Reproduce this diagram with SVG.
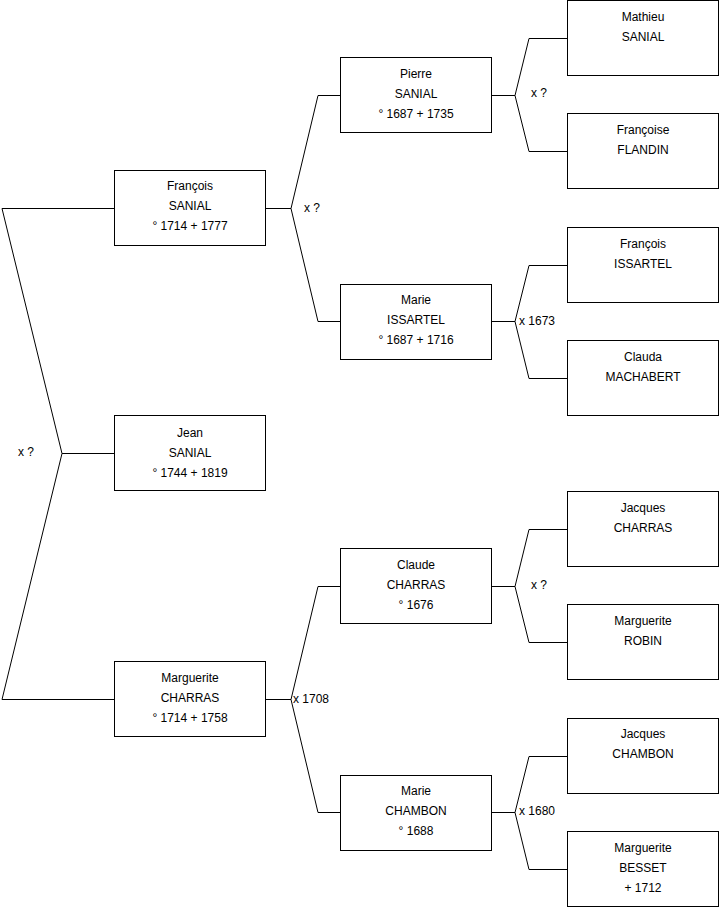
<svg xmlns="http://www.w3.org/2000/svg" width="719" height="908" viewBox="0 0 719 908">
<style>
rect{fill:#fff;stroke:#000;stroke-width:1}
text{font-family:"Liberation Sans",Arial,sans-serif;font-size:12px;fill:#000}
.c{text-anchor:middle}
#connectors path{fill:none;stroke:#000;stroke-width:1}
</style>
<rect x="0" y="0" width="719" height="908" style="stroke:none"/>
<g id="connectors">
<path d="M114,208.5H2L62,453.5H114M2,699.5L62,453.5M2,699.5H114"/>
<path d="M265,208.5H291L318,95.5H341M291,208.5L318,321.5H341"/>
<path d="M265,699.5H291L318,586.5H341M291,699.5L318,812.5H341"/>
<path d="M491,95.5H515L529,38.5H567M515,95.5L529,151.5H567"/>
<path d="M491,321.5H515L529,265.5H567M515,321.5L529,378.5H567"/>
<path d="M491,586.5H515L529,529.5H567M515,586.5L529,642.5H567"/>
<path d="M491,812.5H515L529,756.5H567M515,812.5L529,869.5H567"/>
</g>
<g id="labels">
<text x="18" y="456">x ?</text>
<text x="304" y="212">x ?</text>
<text x="293" y="703">x 1708</text>
<text x="531" y="97">x ?</text>
<text x="519" y="325">x 1673</text>
<text x="531" y="589">x ?</text>
<text x="519" y="815">x 1680</text>
</g>
<g id="jean"><rect x="114.5" y="415.5" width="151" height="75"/><text class="c" x="190" y="437">Jean</text><text class="c" x="190" y="457">SANIAL</text><text class="c" x="190" y="477">° 1744 + 1819</text></g>
<g id="francois-sanial"><rect x="114.5" y="170.5" width="151" height="75"/><text class="c" x="190" y="190">François</text><text class="c" x="190" y="210">SANIAL</text><text class="c" x="190" y="230">° 1714 + 1777</text></g>
<g id="marguerite-charras"><rect x="114.5" y="661.5" width="151" height="75"/><text class="c" x="190" y="682">Marguerite</text><text class="c" x="190" y="702">CHARRAS</text><text class="c" x="190" y="722">° 1714 + 1758</text></g>
<g id="pierre-sanial"><rect x="340.5" y="57.5" width="151" height="75"/><text class="c" x="416" y="78">Pierre</text><text class="c" x="416" y="98">SANIAL</text><text class="c" x="416" y="118">° 1687 + 1735</text></g>
<g id="marie-issartel"><rect x="340.5" y="284.5" width="151" height="75"/><text class="c" x="416" y="304">Marie</text><text class="c" x="416" y="324">ISSARTEL</text><text class="c" x="416" y="344">° 1687 + 1716</text></g>
<g id="claude-charras"><rect x="340.5" y="548.5" width="151" height="75"/><text class="c" x="416" y="569">Claude</text><text class="c" x="416" y="589">CHARRAS</text><text class="c" x="416" y="609">° 1676</text></g>
<g id="marie-chambon"><rect x="340.5" y="775.5" width="151" height="75"/><text class="c" x="416" y="795">Marie</text><text class="c" x="416" y="815">CHAMBON</text><text class="c" x="416" y="835">° 1688</text></g>
<g id="mathieu-sanial"><rect x="567.5" y="0.5" width="151" height="75"/><text class="c" x="643" y="21">Mathieu</text><text class="c" x="643" y="41">SANIAL</text></g>
<g id="francoise-flandin"><rect x="567.5" y="113.5" width="151" height="75"/><text class="c" x="643" y="134">Françoise</text><text class="c" x="643" y="154">FLANDIN</text></g>
<g id="francois-issartel"><rect x="567.5" y="227.5" width="151" height="75"/><text class="c" x="643" y="248">François</text><text class="c" x="643" y="268">ISSARTEL</text></g>
<g id="clauda-machabert"><rect x="567.5" y="340.5" width="151" height="75"/><text class="c" x="643" y="361">Clauda</text><text class="c" x="643" y="381">MACHABERT</text></g>
<g id="jacques-charras"><rect x="567.5" y="491.5" width="151" height="75"/><text class="c" x="643" y="512">Jacques</text><text class="c" x="643" y="532">CHARRAS</text></g>
<g id="marguerite-robin"><rect x="567.5" y="604.5" width="151" height="75"/><text class="c" x="643" y="625">Marguerite</text><text class="c" x="643" y="645">ROBIN</text></g>
<g id="jacques-chambon"><rect x="567.5" y="718.5" width="151" height="75"/><text class="c" x="643" y="738">Jacques</text><text class="c" x="643" y="758">CHAMBON</text></g>
<g id="marguerite-besset"><rect x="567.5" y="831.5" width="151" height="75"/><text class="c" x="643" y="852">Marguerite</text><text class="c" x="643" y="872">BESSET</text><text class="c" x="643" y="892">+ 1712</text></g>
</svg>
